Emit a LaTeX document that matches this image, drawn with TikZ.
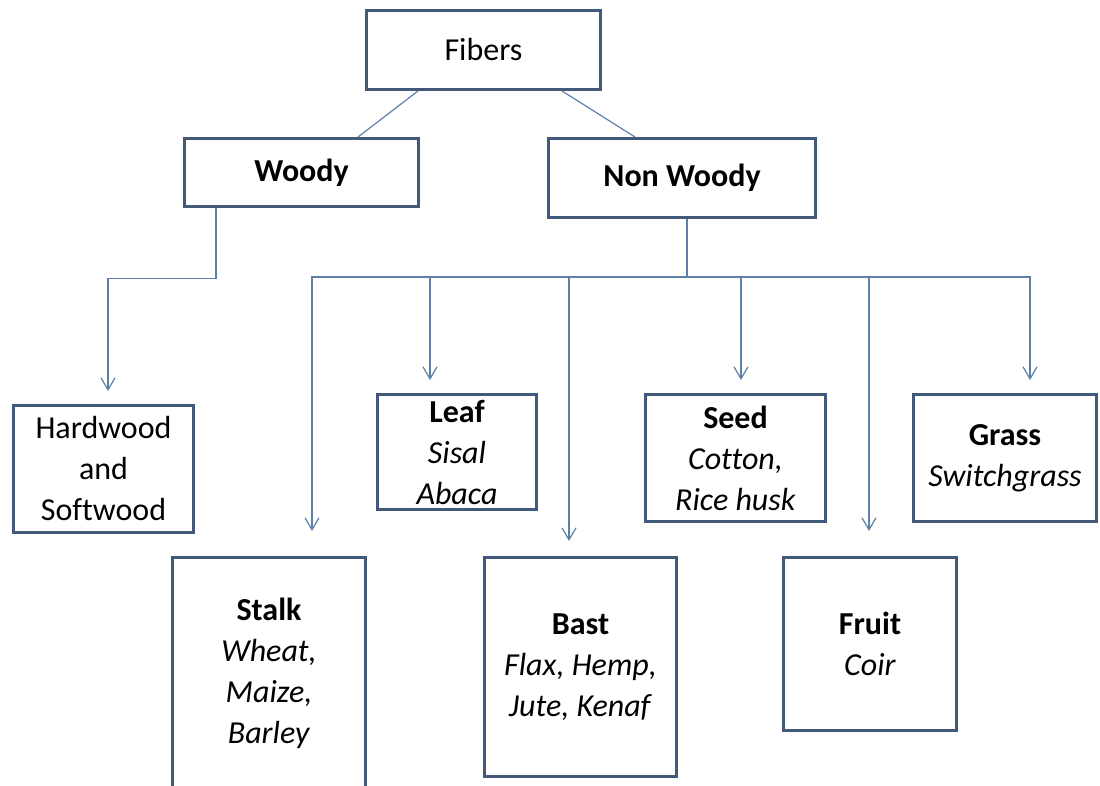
\documentclass[tikz,border=0pt]{standalone}
\usepackage{fontspec}
\setmainfont[Ligatures=NoCommon]{Carlito}
\usetikzlibrary{arrows.meta}
\definecolor{boxline}{HTML}{42597A}
\definecolor{linkline}{HTML}{5C7FA8}
\tikzset{
  fiber/.style 2 args={draw=boxline, line width=3pt, fill=white, align=center,
    inner sep=0pt, minimum width=#1, minimum height=#2,
    font=\fontsize{32}{41}\selectfont},
  link/.style={draw=linkline, line width=1.2pt},
  arrow/.style={link, -{Straight Barb[length=12pt,width=14pt]}, shorten >=#1},
  arrow/.default=13pt
}

\begin{document}
\begin{tikzpicture}[x=1pt, y=-1pt]
            \useasboundingbox (0,0) rectangle (1100,786);

            \node (fibers) [fiber={234pt}{79pt}] at (483.5,50) {Fibers};
            \node (woody) [fiber={234pt}{68pt}] at (301.5,172.5) {\textbf{Woody}};
            \node (nonwoody) [fiber={267pt}{79pt}] at (682,178) {\textbf{Non Woody}};

            \node (hardwood) [fiber={180pt}{127pt}] at (103.5,469) {Hardwood\\and\\Softwood};
            \node (leaf) [fiber={159pt}{115pt}] at (457,452) {\textbf{Leaf}\\\textit{Sisal}\\\textit{Abaca}};
            \node (seed) [fiber={180pt}{127pt}] at (735.5,458) {\textbf{Seed}\\\textit{Cotton,}\\\textit{Rice husk}};
            \node (grass) [fiber={183pt}{127pt}] at (1005,458) {\textbf{Grass}\\\textit{Switchgrass}};

            \node (stalk) [fiber={193pt}{232pt}] at (269,673.5) {\textbf{Stalk}\\\textit{Wheat,}\\\textit{Maize,}\\\textit{Barley}};
            \node (bast) [fiber={192pt}{219pt}] at (580.5,667) {\textbf{Bast}\\\textit{Flax, Hemp,}\\\textit{Jute, Kenaf}};
            \node (fruit) [fiber={173pt}{173pt}] at (870,644) {\textbf{Fruit}\\\textit{Coir}};

            \draw [link] ([xshift=-65.5pt]fibers.south) -- ([xshift=56.5pt]woody.north);
            \draw [link] ([xshift=78.5pt]fibers.south) -- ([xshift=-47pt]nonwoody.north);

            \draw [arrow] ([xshift=-85.5pt]woody.south) -- ++(0,70.5) -| ([xshift=4.5pt]hardwood.north);

            \coordinate (bar) at (687,277);
            \draw [link] (nonwoody.south -| bar) -- (bar);
            \draw [arrow=25pt] (bar) -| ([xshift=43pt]stalk.north);
            \draw [arrow] (bar) -| ([xshift=-27pt]leaf.north);
            \draw [arrow=15pt] (bar) -| ([xshift=-11.5pt]bast.north);
            \draw [arrow] (bar) -| ([xshift=5.5pt]seed.north);
            \draw [arrow=25pt] (bar) -| ([xshift=-1pt]fruit.north);
            \draw [arrow] (bar) -| ([xshift=25pt]grass.north);
\end{tikzpicture}
\end{document}
